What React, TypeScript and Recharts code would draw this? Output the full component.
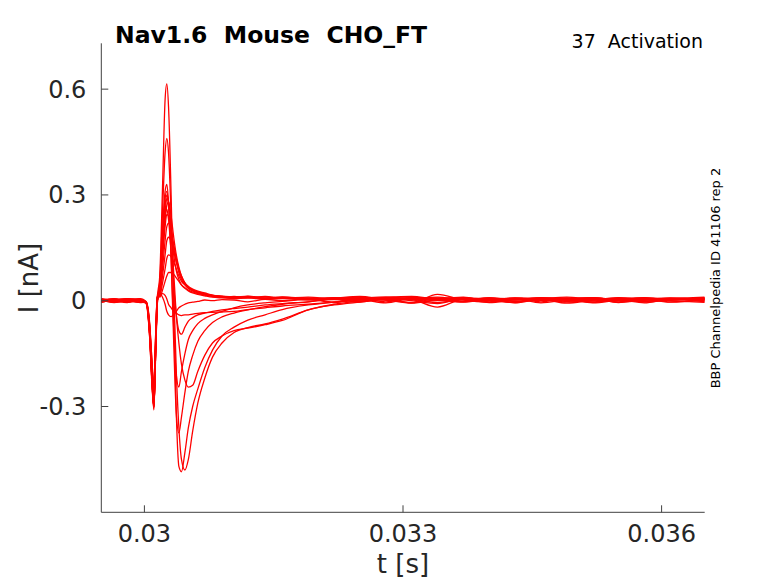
import React from "react";
import { LineChart, Line, XAxis, YAxis } from "recharts";

// sample times (s)
const time = [
  0.0295, 0.02965, 0.0298, 0.02995,
  0.03002, 0.03006, 0.03009, 0.03011, 0.03013, 0.03015,
  0.03018, 0.03021, 0.03024, 0.03026, 0.03028, 0.03031, 0.03034, 0.03037, 0.0304,
  0.03043, 0.03047, 0.03051, 0.03056, 0.03062, 0.0307, 0.03079, 0.0309,
  0.03104, 0.0312, 0.0314, 0.0316, 0.0319, 0.0322, 0.0325, 0.0328, 0.0331, 0.0334,
  0.0337, 0.034, 0.0343, 0.0346, 0.0349, 0.0352, 0.0355, 0.0358, 0.0361, 0.0365,
];

// current traces (nA), one per voltage step
const trA = [
  0.004, -0.003, 0.006, 0.001,
  -0.006, -0.1, -0.25, -0.305, -0.15, 0.0,
  0.08, 0.32, 0.57, 0.615, 0.55, 0.3, -0.02, -0.32, -0.47, -0.485, -0.43, -0.36, -0.3, -0.25, -0.19, -0.14, -0.1,
  -0.075, -0.055, -0.04, -0.025, -0.012, -0.004, 0.006, -0.003, 0.008, 0.004, -0.004, 0.005, -0.006, 0.004, -0.002, 0.006, -0.005, 0.003, -0.004, 0.002,
];
const trB = [
  -0.002, 0.005, -0.004, 0.003,
  -0.004, -0.09, -0.23, -0.3, -0.14, 0.0,
  0.06, 0.25, 0.42, 0.46, 0.42, 0.24, 0.04, -0.2, -0.36, -0.45, -0.48, -0.45, -0.37, -0.29, -0.22, -0.16, -0.12,
  -0.09, -0.076, -0.066, -0.052, -0.026, -0.01, -0.002, 0.004, -0.006, 0.018, 0.002, -0.004, 0.006, -0.003, 0.005, -0.006, 0.002, 0.007, -0.003, 0.004,
];
const trC = [
  0.003, 0.0, -0.005, 0.004,
  -0.008, -0.1, -0.24, -0.3, -0.16, -0.01,
  0.05, 0.2, 0.31, 0.33, 0.28, 0.12, -0.12, -0.32, -0.375, -0.33, -0.26, -0.2, -0.155, -0.115, -0.085, -0.062, -0.046,
  -0.035, -0.026, -0.017, -0.01, -0.003, 0.005, -0.004, 0.007, 0.0, -0.008, 0.006, 0.002, -0.005, 0.008, 0.001, -0.004, 0.005, -0.002, 0.006, -0.003,
];
const trD = [
  -0.004, 0.002, 0.004, -0.002,
  -0.005, -0.08, -0.22, -0.29, -0.13, 0.0,
  0.05, 0.19, 0.29, 0.31, 0.27, 0.12, -0.08, -0.21, -0.245, -0.2, -0.15, -0.11, -0.085, -0.065, -0.05, -0.04, -0.03,
  -0.02, -0.012, -0.006, -0.002, 0.004, -0.005, 0.008, 0.002, -0.007, 0.004, 0.01, -0.003, 0.005, -0.006, 0.003, 0.007, -0.004, 0.001, 0.005, -0.002,
];
const trE = [
  0.005, -0.004, 0.002, 0.006,
  -0.003, -0.085, -0.24, -0.31, -0.15, -0.005,
  0.03, 0.14, 0.25, 0.29, 0.28, 0.2, 0.08, -0.04, -0.12, -0.18, -0.225, -0.245, -0.24, -0.2, -0.155, -0.12, -0.1,
  -0.085, -0.078, -0.068, -0.056, -0.026, -0.012, -0.004, 0.003, -0.005, 0.006, -0.002, 0.008, -0.001, 0.004, -0.007, 0.002, 0.006, -0.004, 0.003, 0.008,
];
const trF = [
  0.001, 0.006, -0.003, -0.004,
  -0.007, -0.09, -0.23, -0.3, -0.15, 0.0,
  0.04, 0.15, 0.24, 0.26, 0.23, 0.14, 0.04, -0.04, -0.085, -0.095, -0.075, -0.058, -0.048, -0.04, -0.035, -0.03, -0.026,
  -0.022, -0.018, -0.012, -0.008, -0.003, 0.004, -0.002, 0.006, 0.003, -0.018, 0.004, -0.005, 0.003, 0.006, -0.004, 0.002, -0.003, 0.005, 0.0, -0.005,
];
const trG = [
  -0.003, 0.004, 0.003, -0.005,
  -0.004, -0.07, -0.2, -0.27, -0.12, 0.01,
  0.015, 0.02, 0.015, 0.005, -0.01, -0.02, -0.03, -0.035, -0.04, -0.042, -0.04, -0.04, -0.038, -0.036, -0.034, -0.033, -0.032,
  -0.03, -0.025, -0.02, -0.015, -0.01, -0.004, 0.003, -0.006, 0.005, 0.001, -0.003, 0.006, -0.002, 0.003, 0.007, -0.004, 0.002, -0.006, 0.004, 0.001,
];
const trH = [
  0.002, -0.005, 0.0, 0.005,
  -0.002, -0.06, -0.18, -0.25, -0.1, 0.02,
  0.02, 0.01, -0.01, -0.03, -0.04, -0.045, -0.04, -0.03, -0.02, -0.015, -0.01, -0.006, -0.004, -0.002, 0.002, 0.0, 0.003,
  0.002, -0.003, 0.004, 0.0, 0.006, -0.004, 0.002, 0.009, 0.004, -0.005, 0.003, 0.0, -0.004, 0.005, 0.002, -0.003, 0.007, -0.002, 0.004, 0.006,
];
const trPa = [
  0.006, 0.001, -0.002, 0.003,
  -0.006, -0.095, -0.24, -0.3, -0.14, 0.0,
  0.04, 0.17, 0.27, 0.3, 0.28, 0.2, 0.13, 0.085, 0.06, 0.045, 0.035, 0.028, 0.022, 0.018, 0.014, 0.01, 0.008,
  0.006, 0.008, 0.004, 0.007, 0.002, 0.006, 0.01, 0.004, 0.009, 0.008, 0.006, 0.003, 0.007, 0.001, 0.005, 0.008, 0.002, 0.006, 0.003, 0.009,
];
const trPb = [
  -0.005, 0.003, 0.005, 0.0,
  -0.005, -0.09, -0.22, -0.29, -0.14, 0.0,
  0.03, 0.13, 0.23, 0.27, 0.28, 0.24, 0.18, 0.13, 0.095, 0.07, 0.05, 0.038, 0.03, 0.024, 0.018, 0.014, 0.01,
  0.012, 0.009, 0.011, 0.006, 0.008, 0.003, 0.007, 0.011, 0.005, 0.002, 0.004, 0.008, 0.003, 0.006, 0.01, 0.004, 0.007, 0.002, 0.006, 0.01,
];
const trPc = [
  0.003, -0.004, 0.004, -0.001,
  -0.004, -0.085, -0.23, -0.3, -0.15, 0.0,
  0.03, 0.12, 0.21, 0.245, 0.24, 0.2, 0.15, 0.11, 0.08, 0.06, 0.045, 0.035, 0.028, 0.022, 0.017, 0.012, 0.01,
  0.008, 0.01, 0.006, 0.009, 0.004, 0.007, 0.003, 0.009, 0.012, 0.005, 0.008, 0.002, 0.006, 0.009, 0.003, 0.007, 0.004, 0.008, 0.002, 0.005,
];
const trPd = [
  -0.001, 0.005, -0.003, 0.004,
  -0.005, -0.08, -0.21, -0.28, -0.13, 0.005,
  0.02, 0.09, 0.17, 0.21, 0.22, 0.2, 0.16, 0.12, 0.09, 0.07, 0.05, 0.04, 0.03, 0.025, 0.02, 0.015, 0.012,
  0.01, 0.013, 0.008, 0.011, 0.006, 0.009, 0.005, 0.003, 0.008, 0.006, 0.004, 0.007, 0.002, 0.008, 0.005, 0.003, 0.009, 0.004, 0.007, 0.003,
];
const trPe = [
  0.004, -0.002, 0.001, -0.004,
  -0.003, -0.075, -0.2, -0.27, -0.12, 0.01,
  0.02, 0.07, 0.13, 0.17, 0.18, 0.17, 0.14, 0.11, 0.085, 0.065, 0.05, 0.04, 0.033, 0.027, 0.022, 0.016, 0.013,
  0.011, 0.008, 0.012, 0.007, 0.01, 0.004, 0.008, 0.002, 0.006, 0.01, 0.003, 0.007, 0.005, 0.001, 0.006, 0.009, 0.003, 0.005, 0.008, 0.002,
];
const trPf = [
  -0.003, 0.002, 0.006, 0.001,
  -0.004, -0.07, -0.19, -0.26, -0.11, 0.01,
  0.015, 0.05, 0.09, 0.12, 0.13, 0.125, 0.11, 0.09, 0.07, 0.055, 0.045, 0.037, 0.03, 0.025, 0.02, 0.015, 0.012,
  0.009, 0.012, 0.007, 0.01, 0.005, 0.008, 0.012, 0.004, 0.007, 0.005, 0.006, 0.003, 0.008, 0.004, 0.007, 0.002, 0.006, 0.009, 0.003, 0.006,
];
const trPg = [
  0.002, -0.004, -0.001, 0.004,
  -0.003, -0.065, -0.18, -0.25, -0.1, 0.015,
  0.01, 0.03, 0.055, 0.07, 0.08, 0.08, 0.075, 0.065, 0.055, 0.045, 0.037, 0.03, 0.025, 0.02, 0.016, 0.013, 0.01,
  0.008, 0.011, 0.006, 0.009, 0.004, 0.007, 0.002, 0.008, 0.005, 0.003, 0.009, 0.004, 0.007, 0.002, 0.005, 0.008, 0.003, 0.006, 0.004, 0.007,
];

const traces = [trA, trB, trC, trD, trE, trF, trG, trH, trPa, trPb, trPc, trPd, trPe, trPf, trPg];

const xTicks = [0.03, 0.033, 0.036];
const yTicks = [-0.3, 0, 0.3, 0.6];

const data = time.map((t, i) => {
  const row: Record<string, number> = { t };
  traces.forEach((tr, k) => {
    row["s" + k] = tr[i];
  });
  return row;
});

const FONT = "DejaVu Sans";
const AXIS = "#404040";
const TXT = "#262626";

const App: React.FC = () => {
  return (
    <div style={{ position: "absolute", left: 0, top: 0, width: 778, height: 583, background: "#fff", fontFamily: FONT }}>
      <LineChart
        width={778}
        height={583}
        data={data}
        margin={{ top: 43.3, right: 73.3, bottom: 30.7, left: 41.3 }}
      >
        <XAxis
          dataKey="t"
          type="number"
          domain={[0.0295, 0.0365]}
          ticks={xTicks}
          allowDataOverflow
          height={40}
          tickSize={-7}
          tickMargin={19.4}
          stroke={AXIS}
          tick={{ fill: TXT, fontSize: 24, fontFamily: FONT }}
          tickFormatter={(v) => String(v)}
        />
        <YAxis
          type="number"
          domain={[-0.6, 0.73]}
          ticks={yTicks}
          allowDataOverflow
          width={60}
          tickSize={-7}
          tickMargin={22}
          stroke={AXIS}
          tick={{ fill: TXT, fontSize: 24, fontFamily: FONT }}
          tickFormatter={(v) => String(v)}
        />
        {traces.map((_, k) => (
          <Line
            key={k}
            dataKey={"s" + k}
            type="monotone"
            stroke="#ff0000"
            strokeWidth={1.3}
            dot={false}
            isAnimationActive={false}
          />
        ))}
      </LineChart>
      <svg
        width={778}
        height={583}
        style={{ position: "absolute", left: 0, top: 0, pointerEvents: "none" }}
      >
        <text x={115} y={43} fontSize={23.5} fontWeight="bold" fill="#000" fontFamily={FONT} style={{ whiteSpace: "pre" }}>
          Nav1.6  Mouse  CHO_FT
        </text>
        <text x={703} y={48} fontSize={19} fill="#000" textAnchor="end" fontFamily={FONT} style={{ whiteSpace: "pre" }}>
          37  Activation
        </text>
        <text x={403} y={573} fontSize={26} fill={TXT} textAnchor="middle" fontFamily={FONT}>
          t [s]
        </text>
        <text
          x={38}
          y={278}
          fontSize={26}
          fill={TXT}
          textAnchor="middle"
          fontFamily={FONT}
          transform="rotate(-90 38 278)"
        >
          I [nA]
        </text>
        <text
          x={720}
          y={278}
          fontSize={13}
          fill="#000"
          textAnchor="middle"
          fontFamily={FONT}
          transform="rotate(-90 720 278)"
        >
          BBP Channelpedia ID 41106 rep 2
        </text>
      </svg>
    </div>
  );
};

export default App;
